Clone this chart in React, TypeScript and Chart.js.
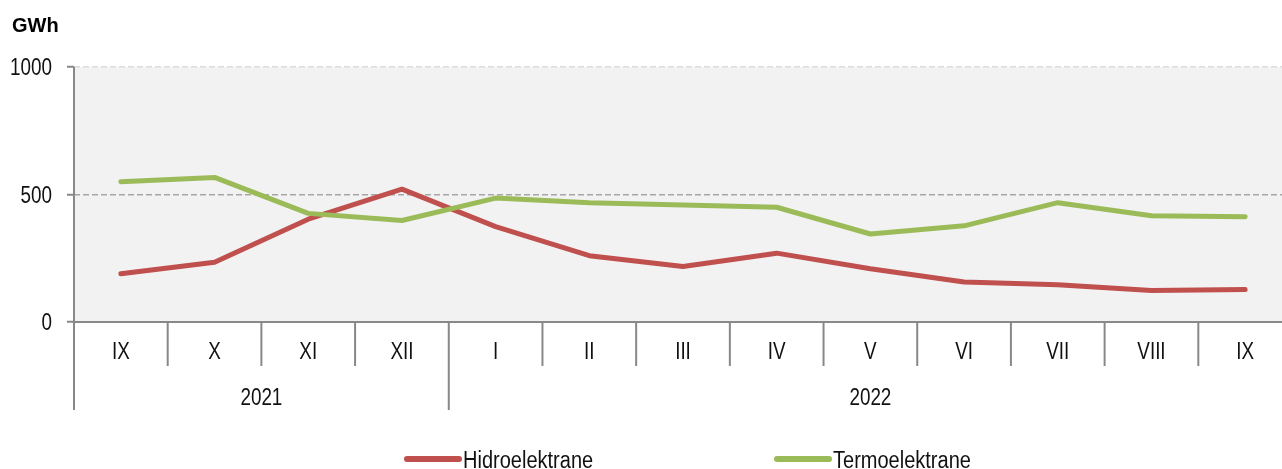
import React, { useEffect, useRef } from 'react';
import { Chart, registerables } from 'chart.js';

Chart.register(...registerables);

const months = ['IX', 'X', 'XI', 'XII', 'I', 'II', 'III', 'IV', 'V', 'VI', 'VII', 'VIII', 'IX'];
const years = ['2021', '2022'];
const yearSpans = [4, 9];
const hidro = [189, 234, 403, 521, 374, 260, 218, 270, 209, 157, 146, 124, 127];
const termo = [550, 567, 426, 398, 486, 468, 459, 450, 345, 377, 468, 417, 413];
const yTickValues = [0, 500, 1000];
const unitLabel = 'GWh';
const seriesNames = ['Hidroelektrane', 'Termoelektrane'];
const seriesColors = ['#c0504d', '#9bbb59'];

const FONT = "'Liberation Sans', Arial, sans-serif";
const NARROW_SCALE = 0.82;
const TEXT_SIZE = 23;
const AXIS_COLOR = '#888888';

function drawNarrow(
  ctx: any,
  text: string,
  x: number,
  y: number,
  align: CanvasTextAlign,
  scale: number = NARROW_SCALE
) {
  ctx.save();
  ctx.translate(x, y);
  ctx.scale(scale, 1);
  ctx.font = `${TEXT_SIZE}px ${FONT}`;
  ctx.textAlign = align;
  ctx.textBaseline = 'alphabetic';
  ctx.fillStyle = '#111';
  ctx.fillText(text, 0, 0);
  ctx.restore();
}

const decorPlugin = {
  id: 'decor',
  beforeDraw(chart: any) {
    const { ctx, chartArea: a } = chart;
    ctx.save();
    ctx.fillStyle = '#f2f2f2';
    ctx.fillRect(a.left, a.top, a.right - a.left, a.bottom - a.top);
    ctx.restore();
  },
  afterDraw(chart: any) {
    const { ctx, chartArea: a } = chart;
    const xs = chart.scales.x;
    const ys = chart.scales.y;
    const step = xs.getPixelForValue(1) - xs.getPixelForValue(0);
    const half = step / 2;
    const boundary = (i: number) => xs.getPixelForValue(0) - half + i * step;
    const base = a.bottom;
    const rowEnd = base + 44;
    const yearEnd = base + 88;

    ctx.save();
    ctx.strokeStyle = AXIS_COLOR;
    ctx.lineWidth = 2;
    ctx.beginPath();
    ctx.moveTo(a.left, base);
    ctx.lineTo(a.right, base);
    ctx.stroke();
    ctx.beginPath();
    ctx.moveTo(a.left, a.top);
    ctx.lineTo(a.left, yearEnd);
    ctx.stroke();

    const yearBounds: number[] = [0];
    let acc = 0;
    yearSpans.forEach((s) => {
      acc += s;
      yearBounds.push(acc);
    });
    for (let i = 1; i <= months.length; i++) {
      const x = boundary(i);
      const isYear = yearBounds.includes(i) && i < months.length;
      ctx.beginPath();
      ctx.moveTo(x, base);
      ctx.lineTo(x, isYear ? yearEnd : rowEnd);
      ctx.stroke();
    }
    ctx.restore();

    // y tick labels
    yTickValues.forEach((v) => {
      drawNarrow(ctx, String(v), 52, ys.getPixelForValue(v) + 8, 'right');
    });

    // month labels
    months.forEach((m, i) => {
      drawNarrow(ctx, m, xs.getPixelForValue(i), base + 37, 'center');
    });
    // year labels
    years.forEach((y, k) => {
      const x0 = boundary(yearBounds[k]);
      const x1 = boundary(yearBounds[k + 1]);
      drawNarrow(ctx, y, (x0 + x1) / 2, base + 83, 'center');
    });

    // unit label
    ctx.save();
    ctx.fillStyle = '#000';
    ctx.textAlign = 'left';
    ctx.textBaseline = 'alphabetic';
    ctx.font = `bold 20px ${FONT}`;
    ctx.fillText(unitLabel, 12, 32);
    ctx.restore();

    // legend
    const legendX = [407, 777];
    const legendY = 459;
    seriesNames.forEach((name, k) => {
      ctx.save();
      ctx.strokeStyle = seriesColors[k];
      ctx.lineWidth = 6;
      ctx.lineCap = 'round';
      ctx.beginPath();
      ctx.moveTo(legendX[k], legendY);
      ctx.lineTo(legendX[k] + 52, legendY);
      ctx.stroke();
      ctx.restore();
      drawNarrow(ctx, name, legendX[k] + 56, legendY + 9, 'left', 0.87);
    });
  },
};

export default function App() {
  const ref = useRef<HTMLCanvasElement | null>(null);

  useEffect(() => {
    if (!ref.current) return;
    const chart = new Chart(ref.current, {
      type: 'line',
      data: {
        labels: months,
        datasets: [
          {
            label: seriesNames[0],
            data: hidro,
            borderColor: seriesColors[0],
            backgroundColor: seriesColors[0],
            borderWidth: 5,
            pointRadius: 0,
            tension: 0,
            borderCapStyle: 'round',
            borderJoinStyle: 'round',
            order: 1,
          },
          {
            label: seriesNames[1],
            data: termo,
            borderColor: seriesColors[1],
            backgroundColor: seriesColors[1],
            borderWidth: 5,
            pointRadius: 0,
            tension: 0,
            borderCapStyle: 'round',
            borderJoinStyle: 'round',
            order: 0,
          },
        ],
      },
      options: {
        responsive: false,
        animation: false,
        devicePixelRatio: 1,
        layout: { padding: { top: 67, right: 8, left: 0, bottom: 0 } },
        plugins: {
          legend: { display: false },
          tooltip: { enabled: false },
        },
        scales: {
          x: {
            type: 'category',
            offset: true,
            grid: { display: false },
            border: { display: false },
            ticks: { display: false },
            afterFit: (s: any) => {
              s.height = 147;
            },
          },
          y: {
            min: 0,
            max: 1000,
            ticks: {
              stepSize: 500,
              display: false,
            },
            grid: {
              color: (ctx: any) =>
                ctx.tick && ctx.tick.value === 500
                  ? '#a6a6a6'
                  : ctx.tick && ctx.tick.value === 1000
                  ? '#dcdcdc'
                  : 'rgba(0,0,0,0)',
              lineWidth: 1.5,
              drawTicks: true,
              tickLength: 7,
              tickColor: AXIS_COLOR,
              tickWidth: 2,
            },
            border: { display: false, dash: [6, 3] },
            afterFit: (s: any) => {
              s.width = 74;
            },
          },
        },
      },
      plugins: [decorPlugin],
    });
    return () => chart.destroy();
  }, []);

  return (
    <div
      style={{
        position: 'fixed',
        left: 0,
        top: 0,
        width: 1282,
        height: 469,
        overflow: 'hidden',
        background: '#fff',
      }}
    >
      <canvas ref={ref} width={1300} height={469} style={{ display: 'block' }} />
    </div>
  );
}
